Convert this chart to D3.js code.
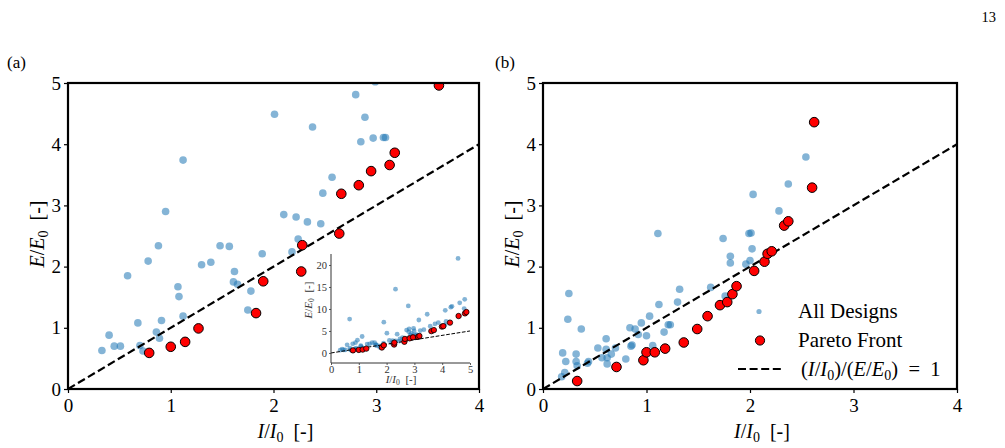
<!DOCTYPE html>
<html>
<head>
<meta charset="utf-8">
<script src="https://cdn.jsdelivr.net/npm/d3@7"></script>
<style>
  body { margin: 0; background: #fff; }
  svg text { font-family: "Liberation Serif", "DejaVu Serif", serif; fill: #000; }
</style>
</head>
<body>
<div id="chart"></div>
<script>
// values

// panel (a): all designs [I/I0, E/E0]
const designsA = [
  [0.33,0.63],[0.40,0.88],[0.45,0.70],[0.51,0.70],[0.58,1.85],[0.68,1.08],[0.70,0.71],[0.73,0.62],
  [0.78,2.09],[0.88,2.34],[0.86,0.93],[0.89,0.83],[0.91,1.12],[0.95,2.90],[1.07,1.67],[1.08,1.51],
  [1.12,1.19],[1.12,3.74],[1.30,2.03],[1.39,2.07],[1.48,2.34],[1.57,2.33],[1.62,1.92],[1.61,1.75],
  [1.65,1.71],[1.78,1.60],[1.75,1.29],[1.89,2.21],[2.01,4.49],[2.10,2.85],[2.22,2.81],[2.33,2.73],
  [2.46,2.70],[2.24,2.45],[2.18,2.24],[2.38,4.28],[2.48,3.20],[2.57,3.46],[2.80,4.81],[2.89,4.44],
  [2.85,4.04],[2.97,4.10],[3.07,4.11],[3.09,4.11],[2.99,5.02],
  [0.67,7.7],[1.90,7.0],[2.32,14.5],[2.78,10.7],[2.72,5.2],[2.81,5.5],[2.97,5.6],[3.16,7.5],
  [3.21,5.1],[3.34,5.3],[3.46,8.8],[3.57,6.1],[3.74,6.6],[3.86,6.9],[4.10,6.4],[4.11,9.7],
  [4.14,7.2],[4.31,10.4],[4.35,10.6],[4.57,21.5],[4.63,11.4],[4.79,10.1],[4.81,12.2]
];

// panel (a): pareto front
const paretoA = [
  [0.79,0.59],[1.00,0.69],[1.14,0.77],[1.27,0.99],[1.83,1.24],[1.90,1.76],[2.27,1.92],[2.28,2.35],
  [2.64,2.54],[2.66,3.19],[2.83,3.33],[2.95,3.56],[3.13,3.66],[3.18,3.86],[3.61,4.96],[3.70,5.2],
  [3.99,6.0],[4.04,6.1],[4.28,6.9],[4.59,8.4],[4.82,9.0],[4.87,9.3]
];

// panel (b): all designs
const designsB = [
  [0.18,0.20],[0.21,0.27],[0.19,0.59],[0.22,0.45],[0.24,1.14],[0.25,1.56],[0.32,0.57],[0.32,0.45],
  [0.33,0.38],[0.37,0.98],[0.43,0.42],[0.44,0.45],[0.53,0.67],[0.57,0.51],[0.61,0.82],[0.61,0.65],
  [0.62,0.51],[0.62,0.41],[0.66,0.57],[0.70,0.67],[0.80,0.49],[0.84,1.00],[0.85,0.70],[0.86,0.72],
  [0.89,0.98],[0.92,0.89],[0.95,1.08],[1.00,0.87],[1.03,1.19],[1.06,0.71],[1.11,2.54],[1.12,1.38],
  [1.17,0.93],[1.21,1.05],[1.23,1.05],[1.30,1.42],[1.32,1.63],[1.62,1.66],[1.74,2.46],[1.76,1.52],
  [1.81,2.17],[1.81,2.06],[1.96,2.04],[1.99,2.54],[2.01,2.55],[2.00,2.10],[2.02,2.29],[2.03,3.18],
  [2.28,2.91],[2.37,3.35],[2.54,3.79]
];

// panel (b): pareto front
const paretoB = [
  [0.33,0.13],[0.71,0.36],[0.97,0.47],[1.00,0.60],[1.08,0.60],[1.18,0.66],[1.36,0.76],[1.49,0.98],
  [1.59,1.19],[1.71,1.37],[1.78,1.42],[1.83,1.55],[1.87,1.68],[2.04,1.93],[2.14,2.08],[2.17,2.21],
  [2.21,2.25],[2.33,2.67],[2.37,2.74],[2.60,3.29],[2.62,4.36]
];

const xTicksMain = [0, 1, 2, 3, 4];
const yTicksMain = [0, 1, 2, 3, 4, 5];
const xTicksInset = [0, 1, 2, 3, 4, 5];
const yTicksInset = [0, 5, 10, 15, 20];
const legendLabels = ["All Designs", "Pareto Front"];

const width = 1005;
const height = 448;
const blue = "#1f77b4";

const svg = d3.select("#chart")
  .append("svg")
  .attr("width", width)
  .attr("height", height);

// axis label like E/E0 [-] with a subscript zero
function ratioLabel(sel, letter, size) {
  sel.append("tspan").attr("font-style", "italic").text(letter);
  sel.append("tspan").text("/");
  sel.append("tspan").attr("font-style", "italic").text(letter);
  sel.append("tspan").attr("font-size", size * 0.7).attr("dy", size * 0.2).text("0");
  sel.append("tspan").attr("dy", -size * 0.2).text("\u2002[-]");
}

function drawPanel(left, right, designs, pareto, clipId) {
  const top = 83, bottom = 389;
  const x = d3.scaleLinear().domain([0, 4]).range([left, right]);
  const y = d3.scaleLinear().domain([0, 5]).range([bottom, top]);

  svg.append("clipPath").attr("id", clipId)
    .append("rect")
    .attr("x", left).attr("y", top)
    .attr("width", right - left).attr("height", bottom - top);

  const plot = svg.append("g").attr("clip-path", `url(#${clipId})`);

  plot.selectAll(".design")
    .data(designs)
    .enter()
    .append("circle")
      .attr("cx", d => x(d[0]))
      .attr("cy", d => y(d[1]))
      .attr("r", 3.8)
      .attr("fill", blue)
      .attr("fill-opacity", 0.55);

  plot.append("line")
    .attr("x1", x(0)).attr("y1", y(0))
    .attr("x2", x(4)).attr("y2", y(4))
    .attr("stroke", "#000")
    .attr("stroke-width", 2.2)
    .attr("stroke-dasharray", "8,3.6");

  plot.selectAll(".pareto")
    .data(pareto)
    .enter()
    .append("circle")
      .attr("cx", d => x(d[0]))
      .attr("cy", d => y(d[1]))
      .attr("r", 4.8)
      .attr("fill", "#ff0000")
      .attr("stroke", "#000")
      .attr("stroke-width", 1);

  // axes
  const xAxis = svg.append("g")
    .attr("transform", `translate(0,${bottom})`)
    .call(d3.axisBottom(x).tickValues(xTicksMain).tickFormat(d3.format("d")).tickSize(4).tickPadding(6));
  const yAxis = svg.append("g")
    .attr("transform", `translate(${left},0)`)
    .call(d3.axisLeft(y).tickValues(yTicksMain).tickFormat(d3.format("d")).tickSize(4).tickPadding(3));
  [xAxis, yAxis].forEach(a => {
    a.attr("font-family", null).attr("font-size", 19);
    a.select(".domain").remove();
    a.selectAll(".tick line").attr("stroke", "#000").attr("stroke-width", 1.2);
  });

  // frame
  svg.append("rect")
    .attr("x", left).attr("y", top)
    .attr("width", right - left).attr("height", bottom - top)
    .attr("fill", "none")
    .attr("stroke", "#000")
    .attr("stroke-width", 2.2);

  // axis titles
  const xl = svg.append("text")
    .attr("x", (left + right) / 2 + 12)
    .attr("y", 438)
    .attr("text-anchor", "middle")
    .attr("font-size", 20);
  ratioLabel(xl, "I", 20);

  const yl = svg.append("text")
    .attr("transform", `translate(${left - 24},${(top + bottom) / 2 - 2}) rotate(-90)`)
    .attr("text-anchor", "middle")
    .attr("font-size", 20);
  ratioLabel(yl, "E", 20);

  return {x, y};
}

drawPanel(68, 479, designsA, paretoA, "clipA");
drawPanel(543, 957, designsB, paretoB, "clipB");

// inset in panel (a)
const inL = 331, inR = 470, inT = 254, inB = 363;
const xi = d3.scaleLinear().domain([0, 5]).range([inL, inR]);
const yi = d3.scaleLinear().domain([-2.28, 22.5]).range([inB, inT]);

svg.append("rect")
  .attr("x", inL).attr("y", inT)
  .attr("width", inR - inL).attr("height", inB - inT)
  .attr("fill", "#fff");

const inset = svg.append("g");
inset.selectAll(".design")
  .data(designsA)
  .enter()
  .append("circle")
    .attr("cx", d => xi(d[0]))
    .attr("cy", d => yi(d[1]))
    .attr("r", 2.4)
    .attr("fill", blue)
    .attr("fill-opacity", 0.55);

inset.append("line")
  .attr("x1", xi(0)).attr("y1", yi(0))
  .attr("x2", xi(5)).attr("y2", yi(5))
  .attr("stroke", "#000")
  .attr("stroke-width", 1)
  .attr("stroke-dasharray", "3.7,1.6");

inset.selectAll(".pareto")
  .data(paretoA)
  .enter()
  .append("circle")
    .attr("cx", d => xi(d[0]))
    .attr("cy", d => yi(d[1]))
    .attr("r", 2.7)
    .attr("fill", "#ff0000")
    .attr("stroke", "#000")
    .attr("stroke-width", 0.8);

const xiAxis = svg.append("g")
  .attr("transform", `translate(0,${inB})`)
  .call(d3.axisBottom(xi).tickValues(xTicksInset).tickFormat(d3.format("d")).tickSize(2).tickPadding(0.5));
const yiAxis = svg.append("g")
  .attr("transform", `translate(${inL},0)`)
  .call(d3.axisLeft(yi).tickValues(yTicksInset).tickFormat(d3.format("d")).tickSize(2).tickPadding(2));
[xiAxis, yiAxis].forEach(a => {
  a.attr("font-family", null).attr("font-size", 10.5);
  a.select(".domain").attr("stroke", "#333").attr("stroke-width", 1);
  a.selectAll(".tick line").attr("stroke", "#333").attr("stroke-width", 0.8);
  a.selectAll(".tick text").style("fill", "#333");
});
// spines only along the data area
xiAxis.select(".domain").attr("d", `M${inL},0H${inR}`);
yiAxis.select(".domain").attr("d", `M0,${inB}V${inT}`);

const xil = svg.append("text")
  .attr("x", 401).attr("y", 383)
  .attr("text-anchor", "middle")
  .attr("font-size", 11)
  .style("fill", "#333");
ratioLabel(xil, "I", 11);

const yil = svg.append("text")
  .attr("transform", `translate(312,300) rotate(-90)`)
  .attr("text-anchor", "middle")
  .attr("font-size", 11)
  .style("fill", "#333");
ratioLabel(yil, "E", 11);

// legend in panel (b)
const legend = svg.append("g");
legend.append("circle")
  .attr("cx", 759).attr("cy", 311.5).attr("r", 2.6)
  .attr("fill", blue).attr("fill-opacity", 0.55);
legend.append("circle")
  .attr("cx", 760).attr("cy", 340.5).attr("r", 4.6)
  .attr("fill", "#ff0000").attr("stroke", "#000").attr("stroke-width", 1);
legend.append("line")
  .attr("x1", 738).attr("x2", 781).attr("y1", 369).attr("y2", 369)
  .attr("stroke", "#000").attr("stroke-width", 2.2).attr("stroke-dasharray", "8,3.6");
legend.selectAll(".lab")
  .data(legendLabels)
  .enter()
  .append("text")
    .attr("x", 798)
    .attr("y", (d, i) => 317.5 + i * 29)
    .attr("font-size", 21)
    .text(d => d);

const eq = legend.append("text")
  .attr("x", 801).attr("y", 375.5)
  .attr("font-size", 20.5);
eq.append("tspan").text("(");
eq.append("tspan").attr("font-style", "italic").text("I");
eq.append("tspan").text("/");
eq.append("tspan").attr("font-style", "italic").text("I");
eq.append("tspan").attr("font-size", 14).attr("dy", 4).text("0");
eq.append("tspan").attr("dy", -4).text(")/(");
eq.append("tspan").attr("font-style", "italic").text("E");
eq.append("tspan").text("/");
eq.append("tspan").attr("font-style", "italic").text("E");
eq.append("tspan").attr("font-size", 14).attr("dy", 4).text("0");
eq.append("tspan").attr("dy", -4).text(")\u2002=\u20021");

// panel tags and page number
svg.append("text").attr("x", 7).attr("y", 68).attr("font-size", 17).text("(a)");
svg.append("text").attr("x", 495).attr("y", 68).attr("font-size", 17).text("(b)");
svg.append("text").attr("x", 996).attr("y", 22).attr("text-anchor", "end").attr("font-size", 14.5).text("13");
</script>
</body>
</html>
